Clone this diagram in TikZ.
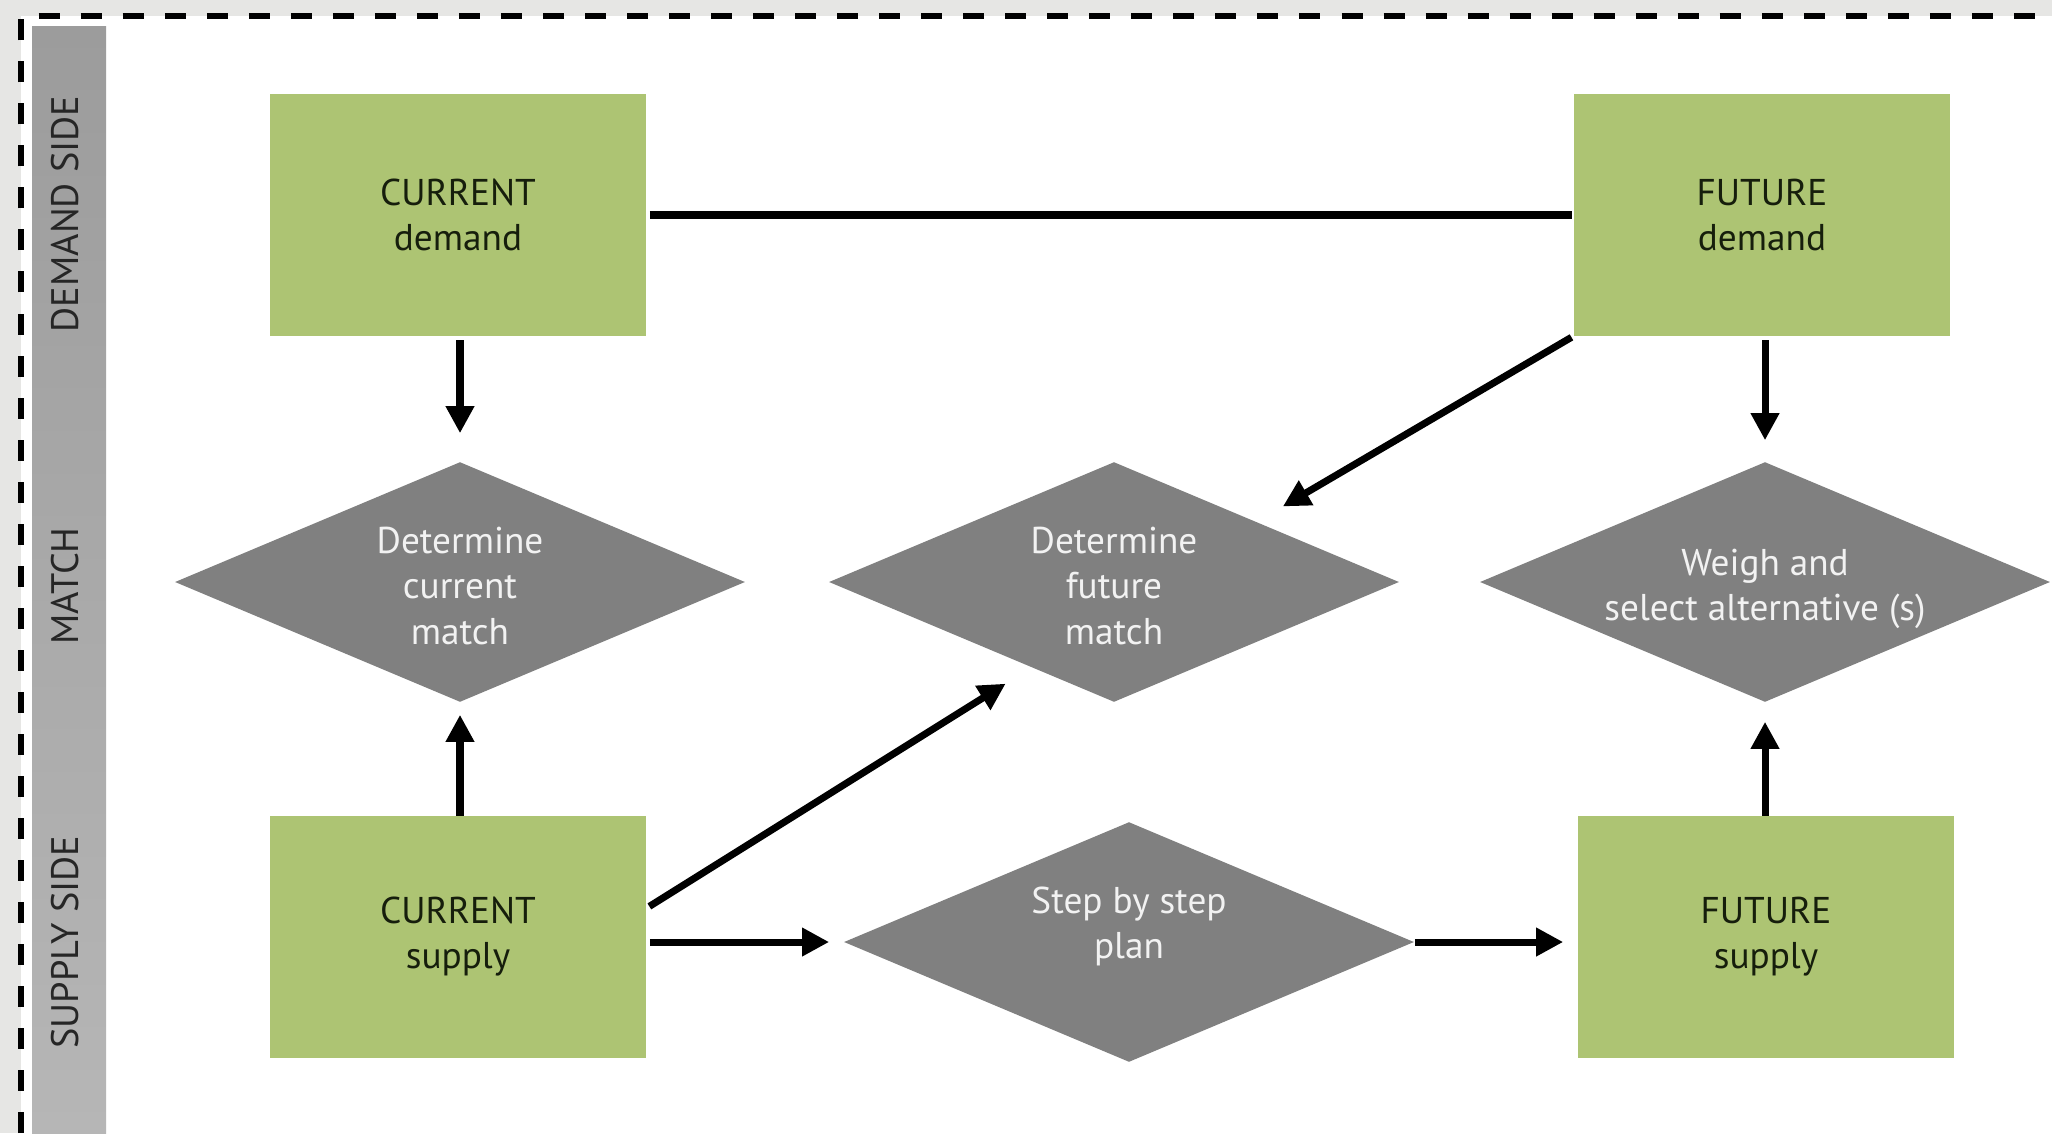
\documentclass[tikz,border=0pt]{standalone}
\usepackage{fontspec}
\setmainfont{PT Sans}
\usetikzlibrary{shapes.geometric,arrows.meta,calc}
\definecolor{boxgreen}{RGB}{173,196,115}
\definecolor{diagray}{RGB}{128,128,128}
\definecolor{bgpale}{RGB}{230,230,228}
\definecolor{bartop}{RGB}{156,156,156}
\definecolor{barmid}{RGB}{140,140,140}
\definecolor{barbot}{RGB}{182,182,182}
\definecolor{boxtext}{RGB}{22,30,12}
\definecolor{diatext}{RGB}{242,242,242}
\begin{document}
\begin{tikzpicture}[x=0.01cm,y=-0.01cm,
  txt/.style={font=\fontsize{10.6}{12.8}\selectfont},
  box/.style={txt,rectangle,fill=boxgreen,minimum width=3.76cm,minimum height=2.41cm,align=center,text=boxtext,inner sep=0pt},
  dia/.style={txt,diamond,fill=diagray,shape aspect=2.375,minimum width=5.7cm,minimum height=2.4cm,inner sep=0pt,align=center,text=diatext},
  diatxt/.style={txt,align=center,text=diatext,inner sep=0pt},
  barlabel/.style={rotate=90,font=\fontsize{10.9}{13}\selectfont,text=black!85},
  conn/.style={line width=2pt,draw=black},
  arr/.style={conn,-{Triangle[length=0.27cm,width=0.27cm]}}]
\useasboundingbox (0,0) rectangle (2052,1133);
\fill[bgpale] (0,0) rectangle (2052,1133);
\fill[white] (21,16) rectangle (2052,1133);
\draw[line width=1.6pt,dash pattern=on 0.21cm off 0.21cm] (21,1133) -- (21,16) -- (2052,16);
\shade[top color=bartop,middle color=barmid,bottom color=barbot] (32,26) rectangle (106,1133);
\node[barlabel] (ldemand) at (65,214) {DEMAND SIDE};
\node[barlabel] (lmatch) at (65,586) {MATCH};
\node[barlabel] (lsupply) at (65,942) {SUPPLY SIDE};

\node[box] (cd) at (458,215) {CURRENT\\demand};
\node[box] (fd) at (1762,215) {FUTURE\\demand};
\node[box] (cs) at (458,937) {CURRENT\\supply};
\node[box] (fs) at (1766,937) {FUTURE\\supply};
\node[dia] (dcm) at (460,582) {};
\node[diatxt] (dcmt) at (460,586) {Determine\\current\\match};
\node[dia] (dfm) at (1114,582) {};
\node[diatxt] (dfmt) at (1114,586) {Determine\\future\\match};
\node[dia] (ws) at (1765,582) {};
\node[diatxt] (wst) at (1765,589) {Weigh and\\select alternative (s)};
\node[dia] (sp) at (1129,942) {};
\node[diatxt] (spt) at (1129,926) {Step by step\\plan};

\draw[conn,shorten <=0.03cm,shorten >=0.01cm] (cd.east) -- (fd.west);
\draw[arr,shorten <=0.04cm,shorten >=0.28cm] (cd.south -| dcm.north) -- (dcm.north);
\draw[arr,shorten <=0.04cm,shorten >=0.21cm] (fd.south -| ws.north) -- (ws.north);
\draw[arr,shorten >=0.12cm] (cs.north -| dcm.south) -- (dcm.south);
\draw[arr,shorten >=0.19cm] (fs.north -| ws.south) -- (ws.south);
\draw[arr,shorten <=0.02cm,shorten >=0.3cm] (fd.south west) -- (dfm.north east);
\draw[arr,shorten <=0.03cm,shorten >=0.3cm] ([yshift=0.29cm]cs.east) -- ($(dfm.west)!0.71!(dfm.south)$);
\draw[arr,shorten <=0.03cm,shorten >=0.14cm] (cs.east |- sp.west) -- (sp.west);
\draw[arr,shorten >=0.14cm] (sp.east) -- (sp.east -| fs.west);
\end{tikzpicture}
\end{document}
